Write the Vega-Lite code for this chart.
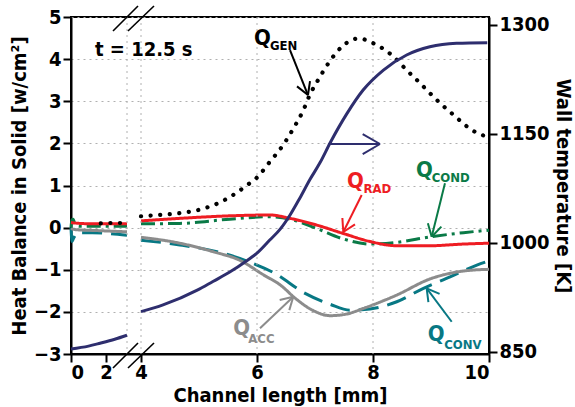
{
  "$schema": "https://vega.github.io/schema/vega-lite/v6.json",
  "width": 418,
  "height": 337,
  "autosize": {"type": "none"},
  "padding": {"left": 71, "top": 17, "right": 86, "bottom": 53},
  "background": "white",
  "config": {
    "font": "DejaVu Sans Condensed, DejaVu Sans, sans-serif",
    "view": {"stroke": "black", "strokeWidth": 2},
    "axis": {
      "domainColor": "black", "domainWidth": 2,
      "tickColor": "black", "tickWidth": 2, "tickSize": 8,
      "labelFont": "DejaVu Sans Condensed, DejaVu Sans, sans-serif",
      "labelFontSize": 20, "labelFontWeight": "bold", "labelColor": "black",
      "titleFont": "DejaVu Sans Condensed, DejaVu Sans, sans-serif",
      "titleFontSize": 20, "titleFontWeight": "bold", "titleColor": "black",
      "gridColor": "#b0b0b0", "gridDash": [2, 4], "gridWidth": 1
    },
    "text": {"font": "DejaVu Sans Condensed, DejaVu Sans, sans-serif", "fontWeight": "bold"}
  },
  "datasets": {
    "q": [
      {"s": "GEN", "seg": "a", "x": 1.7, "y": 0.10},
      {"s": "GEN", "seg": "a", "x": 2.3, "y": 0.11},
      {"s": "GEN", "seg": "a", "x": 2.8, "y": 0.11},
      {"s": "GEN", "seg": "a", "x": 3.2, "y": 0.12},
      {"s": "GEN", "seg": "b", "x": 4.0, "y": 0.27},
      {"s": "GEN", "seg": "b", "x": 4.3, "y": 0.30},
      {"s": "GEN", "seg": "b", "x": 4.7, "y": 0.35},
      {"s": "GEN", "seg": "b", "x": 4.99, "y": 0.42},
      {"s": "GEN", "seg": "b", "x": 5.28, "y": 0.55},
      {"s": "GEN", "seg": "b", "x": 5.56, "y": 0.75},
      {"s": "GEN", "seg": "b", "x": 5.85, "y": 1.03},
      {"s": "GEN", "seg": "b", "x": 6.0, "y": 1.19},
      {"s": "GEN", "seg": "b", "x": 6.22, "y": 1.56},
      {"s": "GEN", "seg": "b", "x": 6.34, "y": 1.76},
      {"s": "GEN", "seg": "b", "x": 6.45, "y": 1.96},
      {"s": "GEN", "seg": "b", "x": 6.63, "y": 2.36},
      {"s": "GEN", "seg": "b", "x": 6.8, "y": 2.79},
      {"s": "GEN", "seg": "b", "x": 6.91, "y": 3.15},
      {"s": "GEN", "seg": "b", "x": 7.06, "y": 3.52},
      {"s": "GEN", "seg": "b", "x": 7.23, "y": 3.9},
      {"s": "GEN", "seg": "b", "x": 7.46, "y": 4.29},
      {"s": "GEN", "seg": "b", "x": 7.75, "y": 4.49},
      {"s": "GEN", "seg": "b", "x": 8.03, "y": 4.36},
      {"s": "GEN", "seg": "b", "x": 8.32, "y": 4.1},
      {"s": "GEN", "seg": "b", "x": 8.58, "y": 3.74},
      {"s": "GEN", "seg": "b", "x": 8.81, "y": 3.43},
      {"s": "GEN", "seg": "b", "x": 9.07, "y": 3.07},
      {"s": "GEN", "seg": "b", "x": 9.21, "y": 2.89},
      {"s": "GEN", "seg": "b", "x": 9.36, "y": 2.71},
      {"s": "GEN", "seg": "b", "x": 9.5, "y": 2.54},
      {"s": "GEN", "seg": "b", "x": 9.64, "y": 2.38},
      {"s": "GEN", "seg": "b", "x": 9.79, "y": 2.25},
      {"s": "GEN", "seg": "b", "x": 9.97, "y": 2.16},

      {"s": "CONV", "seg": "a", "x": 0, "y": 0.0},
      {"s": "CONV", "seg": "a", "x": 0.06, "y": -0.33},
      {"s": "CONV", "seg": "a", "x": 0.15, "y": -0.25},
      {"s": "CONV", "seg": "a", "x": 0.4, "y": -0.12},
      {"s": "CONV", "seg": "a", "x": 1.2, "y": -0.12},
      {"s": "CONV", "seg": "a", "x": 2.2, "y": -0.14},
      {"s": "CONV", "seg": "a", "x": 3.2, "y": -0.18},
      {"s": "CONV", "seg": "b", "x": 4.0, "y": -0.3},
      {"s": "CONV", "seg": "b", "x": 4.67, "y": -0.41},
      {"s": "CONV", "seg": "b", "x": 5.42, "y": -0.61},
      {"s": "CONV", "seg": "b", "x": 5.82, "y": -0.79},
      {"s": "CONV", "seg": "b", "x": 6.3, "y": -1.08},
      {"s": "CONV", "seg": "b", "x": 6.83, "y": -1.56},
      {"s": "CONV", "seg": "b", "x": 7.26, "y": -1.82},
      {"s": "CONV", "seg": "b", "x": 7.6, "y": -1.96},
      {"s": "CONV", "seg": "b", "x": 7.95, "y": -1.93},
      {"s": "CONV", "seg": "b", "x": 8.41, "y": -1.76},
      {"s": "CONV", "seg": "b", "x": 8.87, "y": -1.44},
      {"s": "CONV", "seg": "b", "x": 9.33, "y": -1.17},
      {"s": "CONV", "seg": "b", "x": 9.79, "y": -0.89},
      {"s": "CONV", "seg": "b", "x": 10, "y": -0.79},

      {"s": "ACC", "seg": "a", "x": 0, "y": -0.02},
      {"s": "ACC", "seg": "a", "x": 0.3, "y": -0.05},
      {"s": "ACC", "seg": "a", "x": 1.5, "y": -0.07},
      {"s": "ACC", "seg": "a", "x": 3.2, "y": -0.1},
      {"s": "ACC", "seg": "b", "x": 4.0, "y": -0.23},
      {"s": "ACC", "seg": "b", "x": 4.67, "y": -0.37},
      {"s": "ACC", "seg": "b", "x": 5.24, "y": -0.57},
      {"s": "ACC", "seg": "b", "x": 5.71, "y": -0.78},
      {"s": "ACC", "seg": "b", "x": 6.11, "y": -1.12},
      {"s": "ACC", "seg": "b", "x": 6.4, "y": -1.36},
      {"s": "ACC", "seg": "b", "x": 6.68, "y": -1.7},
      {"s": "ACC", "seg": "b", "x": 6.97, "y": -1.97},
      {"s": "ACC", "seg": "b", "x": 7.26, "y": -2.09},
      {"s": "ACC", "seg": "b", "x": 7.55, "y": -2.05},
      {"s": "ACC", "seg": "b", "x": 7.83, "y": -1.92},
      {"s": "ACC", "seg": "b", "x": 8.41, "y": -1.6},
      {"s": "ACC", "seg": "b", "x": 8.98, "y": -1.22},
      {"s": "ACC", "seg": "b", "x": 9.56, "y": -1.03},
      {"s": "ACC", "seg": "b", "x": 10, "y": -0.99},

      {"s": "COND", "seg": "a", "x": 0, "y": 0.0},
      {"s": "COND", "seg": "a", "x": 0.05, "y": 0.18},
      {"s": "COND", "seg": "a", "x": 0.12, "y": 0.2},
      {"s": "COND", "seg": "a", "x": 0.25, "y": 0.06},
      {"s": "COND", "seg": "a", "x": 0.5, "y": 0.03},
      {"s": "COND", "seg": "a", "x": 3.2, "y": 0.03},
      {"s": "COND", "seg": "b", "x": 4.0, "y": 0.09},
      {"s": "COND", "seg": "b", "x": 4.67, "y": 0.1},
      {"s": "COND", "seg": "b", "x": 5.53, "y": 0.2},
      {"s": "COND", "seg": "b", "x": 6.22, "y": 0.26},
      {"s": "COND", "seg": "b", "x": 6.57, "y": 0.2},
      {"s": "COND", "seg": "b", "x": 7.03, "y": -0.02},
      {"s": "COND", "seg": "b", "x": 7.49, "y": -0.27},
      {"s": "COND", "seg": "b", "x": 7.95, "y": -0.39},
      {"s": "COND", "seg": "b", "x": 8.41, "y": -0.35},
      {"s": "COND", "seg": "b", "x": 8.98, "y": -0.22},
      {"s": "COND", "seg": "b", "x": 9.56, "y": -0.12},
      {"s": "COND", "seg": "b", "x": 10, "y": -0.06},

      {"s": "RAD", "seg": "a", "x": 0, "y": 0.12},
      {"s": "RAD", "seg": "a", "x": 0.5, "y": 0.1},
      {"s": "RAD", "seg": "a", "x": 1.5, "y": 0.09},
      {"s": "RAD", "seg": "a", "x": 3.2, "y": 0.09},
      {"s": "RAD", "seg": "b", "x": 4.0, "y": 0.16},
      {"s": "RAD", "seg": "b", "x": 4.67, "y": 0.22},
      {"s": "RAD", "seg": "b", "x": 5.53, "y": 0.28},
      {"s": "RAD", "seg": "b", "x": 6.22, "y": 0.3},
      {"s": "RAD", "seg": "b", "x": 6.57, "y": 0.22},
      {"s": "RAD", "seg": "b", "x": 7.03, "y": 0.06},
      {"s": "RAD", "seg": "b", "x": 7.49, "y": -0.14},
      {"s": "RAD", "seg": "b", "x": 7.95, "y": -0.33},
      {"s": "RAD", "seg": "b", "x": 8.41, "y": -0.43},
      {"s": "RAD", "seg": "b", "x": 8.98, "y": -0.43},
      {"s": "RAD", "seg": "b", "x": 9.56, "y": -0.39},
      {"s": "RAD", "seg": "b", "x": 10, "y": -0.37}
    ],
    "wall": [
      {"seg": "a", "x": 0, "T": 854},
      {"seg": "a", "x": 1, "T": 858},
      {"seg": "a", "x": 1.66, "T": 862},
      {"seg": "a", "x": 2.5, "T": 867.5},
      {"seg": "a", "x": 3.2, "T": 873},
      {"seg": "b", "x": 4.0, "T": 905.5},
      {"seg": "b", "x": 4.38, "T": 914.7},
      {"seg": "b", "x": 4.97, "T": 935},
      {"seg": "b", "x": 5.24, "T": 947},
      {"seg": "b", "x": 5.53, "T": 960},
      {"seg": "b", "x": 5.83, "T": 976},
      {"seg": "b", "x": 6.0, "T": 986},
      {"seg": "b", "x": 6.22, "T": 1004},
      {"seg": "b", "x": 6.4, "T": 1019},
      {"seg": "b", "x": 6.57, "T": 1038.5},
      {"seg": "b", "x": 6.74, "T": 1062},
      {"seg": "b", "x": 6.91, "T": 1087},
      {"seg": "b", "x": 7.09, "T": 1111},
      {"seg": "b", "x": 7.26, "T": 1137.6},
      {"seg": "b", "x": 7.55, "T": 1178},
      {"seg": "b", "x": 7.83, "T": 1210.5},
      {"seg": "b", "x": 8.18, "T": 1238},
      {"seg": "b", "x": 8.58, "T": 1258.7},
      {"seg": "b", "x": 8.98, "T": 1270},
      {"seg": "b", "x": 9.44, "T": 1274.8},
      {"seg": "b", "x": 9.97, "T": 1275.6}
    ],
    "lab": [
      {"k": "GEN", "qx": 5.948, "qy": 4.335, "sx": 6.224, "sy": 4.216},
      {"k": "RAD", "qx": 7.552, "qy": 0.94, "sx": 7.836, "sy": 0.828},
      {"k": "COND", "qx": 8.741, "qy": 1.208, "sx": 9.012, "sy": 1.09},
      {"k": "ACC", "qx": 5.591, "qy": -2.55, "sx": 5.85, "sy": -2.732},
      {"k": "CONV", "qx": 8.943, "qy": -2.692, "sx": 9.229, "sy": -2.882}
    ],
    "arr": [
      {"k": "GEN", "x": 6.569, "y": 4.216, "x2": 6.879, "y2": 3.148},
      {"k": "GEN", "x": 6.914, "y": 3.478, "x2": 6.879, "y2": 3.148},
      {"k": "GEN", "x": 6.69, "y": 3.353, "x2": 6.879, "y2": 3.148},
      {"k": "RAD", "x": 7.805, "y": 0.774, "x2": 7.488, "y2": -0.104},
      {"k": "RAD", "x": 7.69, "y": 0.078, "x2": 7.488, "y2": -0.104},
      {"k": "RAD", "x": 7.472, "y": 0.228, "x2": 7.488, "y2": -0.104},
      {"k": "COND", "x": 9.241, "y": 1.052, "x2": 9.012, "y2": -0.216},
      {"k": "COND", "x": 9.179, "y": 0.024, "x2": 9.012, "y2": -0.216},
      {"k": "COND", "x": 8.946, "y": 0.103, "x2": 9.012, "y2": -0.216},
      {"k": "ACC", "x": 6.052, "y": -2.391, "x2": 6.626, "y2": -1.64},
      {"k": "ACC", "x": 6.391, "y": -1.718, "x2": 6.626, "y2": -1.64},
      {"k": "ACC", "x": 6.557, "y": -1.958, "x2": 6.626, "y2": -1.64},
      {"k": "CONV", "x": 9.357, "y": -2.234, "x2": 8.926, "y2": -1.441},
      {"k": "CONV", "x": 8.955, "y": -1.771, "x2": 8.926, "y2": -1.441},
      {"k": "CONV", "x": 9.148, "y": -1.572, "x2": 8.926, "y2": -1.441},
      {"k": "WALL", "x": 7.229, "y": 1.985, "x2": 8.121, "y2": 1.985},
      {"k": "WALL", "x": 7.822, "y": 2.222, "x2": 8.121, "y2": 1.985},
      {"k": "WALL", "x": 7.822, "y": 1.747, "x2": 8.121, "y2": 1.985}
    ],
    "brk": [
      {"x": 2.4, "y": 4.667, "x2": 3.829, "y2": 5.261},
      {"x": 3.257, "y": 4.667, "x2": 4.224, "y2": 5.261},
      {"x": 2.4, "y": -3.333, "x2": 3.829, "y2": -2.739},
      {"x": 3.257, "y": -3.333, "x2": 4.224, "y2": -2.739}
    ],
    "note": [
      {"t": "t = 12.5 s", "x": 1.371, "y": 4.074}
    ],
    "xgrid": [
      {"g": 3.2}, {"g": 4}, {"g": 6}, {"g": 8}
    ]
  },
  "layer": [
    {
      "layer": [
        {
          "data": {"name": "q"},
          "transform": [{"filter": "datum.s !== 'GEN'"}],
          "mark": {"type": "line", "interpolate": "monotone", "strokeWidth": 3},
          "encoding": {
            "x": {"field": "x", "type": "quantitative", "scale": {"domain": [0, 4, 10], "range": [0, 70, 418], "nice": false, "zero": false},
              "axis": {"values": [0, 2, 4, 6, 8, 10], "format": "d", "title": "Channel length [mm]", "grid": false, "labelPadding": 0, "titlePadding": 3}},
            "y": {"field": "y", "type": "quantitative", "scale": {"domain": [-3, 5], "nice": false, "zero": false},
              "axis": {"values": [-3, -2, -1, 0, 1, 2, 3, 4, 5], "format": "d", "title": "Heat Balance in Solid [w/cm²]", "grid": true, "labelPadding": 2, "titlePadding": 4}},
            "color": {"field": "s", "type": "nominal", "legend": null,
              "scale": {"domain": ["GEN", "RAD", "COND", "ACC", "CONV", "WALL"], "range": ["#000000", "#ee1d23", "#0a7a47", "#8c8c8c", "#087884", "#2e2e6e"]}},
            "strokeDash": {"field": "s", "type": "nominal", "legend": null,
              "scale": {"domain": ["RAD", "COND", "ACC", "CONV"], "range": [[1, 0], [14, 5, 3, 5], [1, 0], [20, 9]]}},
            "detail": {"field": "seg"}
          }
        },
        {
          "data": {"name": "xgrid"},
          "mark": {"type": "rule", "color": "#b0b0b0", "strokeDash": [2, 4], "strokeWidth": 1},
          "encoding": {
            "x": {"field": "g", "type": "quantitative", "scale": {"domain": [0, 4, 10], "range": [0, 70, 418], "nice": false, "zero": false}}
          }
        },
        {
          "data": {"name": "q"},
          "transform": [{"filter": "datum.s === 'GEN'"}],
          "mark": {"type": "line", "interpolate": "monotone", "strokeWidth": 4.2, "strokeDash": [0.1, 9.5], "strokeCap": "round", "color": "black"},
          "encoding": {
            "x": {"field": "x", "type": "quantitative", "scale": {"domain": [0, 4, 10], "range": [0, 70, 418], "nice": false, "zero": false}},
            "y": {"field": "y", "type": "quantitative", "scale": {"domain": [-3, 5], "nice": false, "zero": false}},
            "detail": {"field": "seg"}
          }
        },
        {
          "data": {"name": "arr"},
          "mark": {"type": "rule", "strokeWidth": 2},
          "encoding": {
            "x": {"field": "x", "type": "quantitative", "scale": {"domain": [0, 4, 10], "range": [0, 70, 418], "nice": false, "zero": false}},
            "y": {"field": "y", "type": "quantitative", "scale": {"domain": [-3, 5], "nice": false, "zero": false}},
            "x2": {"field": "x2"},
            "y2": {"field": "y2"},
            "color": {"field": "k", "type": "nominal", "legend": null,
              "scale": {"domain": ["GEN", "RAD", "COND", "ACC", "CONV", "WALL"], "range": ["#000000", "#ee1d23", "#0a7a47", "#8c8c8c", "#087884", "#2e2e6e"]}}
          }
        },
        {
          "data": {"name": "lab"},
          "mark": {"type": "text", "text": "Q", "fontSize": 22, "fontWeight": "bold", "align": "left", "baseline": "alphabetic"},
          "encoding": {
            "x": {"field": "qx", "type": "quantitative", "scale": {"domain": [0, 4, 10], "range": [0, 70, 418], "nice": false, "zero": false}},
            "y": {"field": "qy", "type": "quantitative", "scale": {"domain": [-3, 5], "nice": false, "zero": false}},
            "color": {"field": "k", "type": "nominal", "legend": null,
              "scale": {"domain": ["GEN", "RAD", "COND", "ACC", "CONV", "WALL"], "range": ["#000000", "#ee1d23", "#0a7a47", "#8c8c8c", "#087884", "#2e2e6e"]}}
          }
        },
        {
          "data": {"name": "lab"},
          "mark": {"type": "text", "fontSize": 13, "fontWeight": "bold", "align": "left", "baseline": "alphabetic"},
          "encoding": {
            "x": {"field": "sx", "type": "quantitative", "scale": {"domain": [0, 4, 10], "range": [0, 70, 418], "nice": false, "zero": false}},
            "y": {"field": "sy", "type": "quantitative", "scale": {"domain": [-3, 5], "nice": false, "zero": false}},
            "text": {"field": "k"},
            "color": {"field": "k", "type": "nominal", "legend": null,
              "scale": {"domain": ["GEN", "RAD", "COND", "ACC", "CONV", "WALL"], "range": ["#000000", "#ee1d23", "#0a7a47", "#8c8c8c", "#087884", "#2e2e6e"]}}
          }
        },
        {
          "data": {"name": "note"},
          "mark": {"type": "text", "fontSize": 20, "fontWeight": "bold", "align": "left", "baseline": "alphabetic", "color": "black"},
          "encoding": {
            "x": {"field": "x", "type": "quantitative", "scale": {"domain": [0, 4, 10], "range": [0, 70, 418], "nice": false, "zero": false}},
            "y": {"field": "y", "type": "quantitative", "scale": {"domain": [-3, 5], "nice": false, "zero": false}},
            "text": {"field": "t"}
          }
        },
        {
          "data": {"name": "brk"},
          "mark": {"type": "rule", "strokeWidth": 1.6, "color": "black"},
          "encoding": {
            "x": {"field": "x", "type": "quantitative", "scale": {"domain": [0, 4, 10], "range": [0, 70, 418], "nice": false, "zero": false}},
            "y": {"field": "y", "type": "quantitative", "scale": {"domain": [-3, 5], "nice": false, "zero": false}},
            "x2": {"field": "x2"},
            "y2": {"field": "y2"}
          }
        }
      ]
    },
    {
      "data": {"name": "wall"},
      "mark": {"type": "line", "interpolate": "monotone", "strokeWidth": 3, "color": "#2e2e6e"},
      "encoding": {
        "x": {"field": "x", "type": "quantitative", "scale": {"domain": [0, 4, 10], "range": [0, 70, 418], "nice": false, "zero": false}},
        "y": {"field": "T", "type": "quantitative", "scale": {"domain": [847.2, 1311], "nice": false, "zero": false},
          "axis": {"orient": "right", "values": [850, 1000, 1150, 1300], "format": "d", "title": "Wall temperature [K]", "grid": false, "labelPadding": 2, "titlePadding": 3}},
        "detail": {"field": "seg"}
      }
    }
  ],
  "resolve": {"scale": {"y": "independent"}}
}
